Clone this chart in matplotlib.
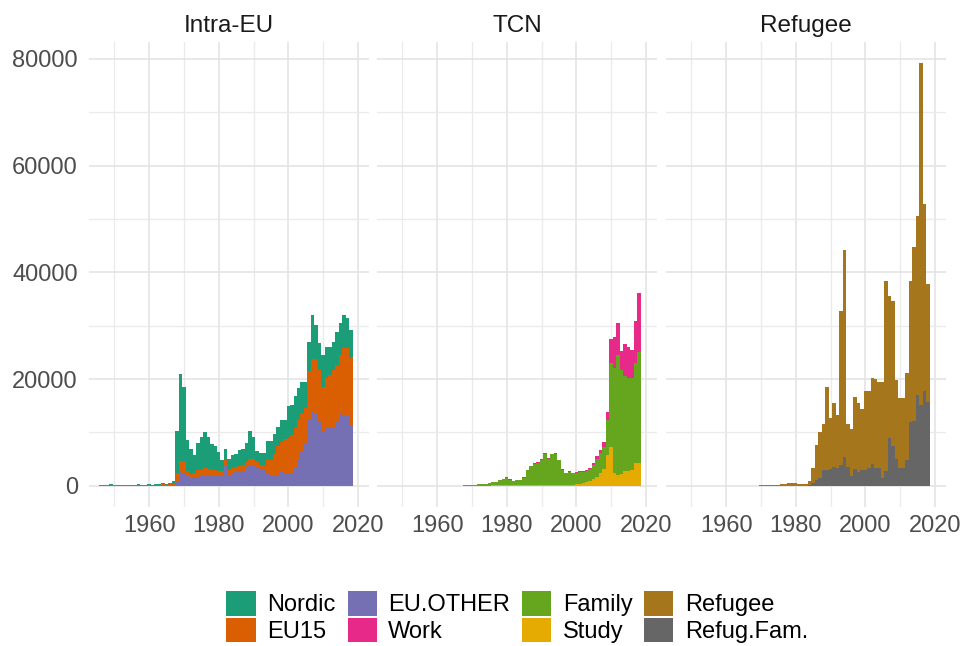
import numpy as np
import matplotlib.pyplot as plt
from matplotlib.patches import Patch

plt.rcParams['font.family'] = ['Liberation Sans', 'DejaVu Sans']
plt.rcParams['font.size'] = 17

years = np.arange(1946, 2019)

# Intra-EU (1946-2018)
nordic = [150, 120, 150, 180, 150, 130, 150, 160, 140, 150,
          150, 170, 150, 140, 160, 150, 180, 150, 200, 150,
          150, 500, 7800, 16400, 14000, 5900, 4600, 3300, 5200, 6100,
          6700, 6000, 4900, 4500, 3600, 2100, 2100, 2100, 2400, 2500,
          2950, 3000, 3700, 5300, 4200, 2100, 2300, 2200, 3500, 3500,
          3700, 3700, 3950, 3550, 6000, 5700, 6100, 5900, 5800, 4900,
          5400, 8250, 6450, 4950, 6100, 5900, 5300, 5150, 6050, 6050,
          6200, 5600, 5350]
eu15 = [50, 40, 60, 50, 50, 40, 50, 60, 50, 50,
        50, 60, 50, 50, 60, 50, 60, 80, 350, 150,
        300, 250, 1500, 1900, 2200, 600, 550, 1050, 1150, 1100,
        1350, 1200, 1050, 1000, 900, 750, 1000, 800, 900, 950,
        1050, 1200, 1100, 1100, 1200, 1100, 900, 900, 2500, 2800,
        3950, 5350, 5600, 6300, 6400, 7000, 7500, 7500, 7200, 6500,
        9000, 9850, 10150, 9750, 8200, 9400, 10000, 10650, 10700, 10950,
        12500, 12700, 12650]
eu_other = [30, 30, 40, 30, 30, 30, 40, 30, 30, 30,
            30, 40, 30, 30, 40, 30, 40, 40, 40, 40,
            50, 100, 900, 2700, 2400, 2100, 1750, 1450, 1750, 1900,
            1950, 1900, 1950, 1900, 1900, 1950, 3900, 2100, 2400, 2550,
            2700, 2700, 3300, 3900, 3800, 3300, 3000, 3000, 2400, 2100,
            2050, 2050, 2700, 2400, 2500, 2500, 3300, 4900, 6400, 8000,
            12500, 13900, 13600, 12000, 10300, 10800, 10800, 11100, 12000, 13600,
            13300, 13100, 11250]

# TCN (1946-2018)
family = [0] * 22 + [
    150, 150, 200, 250, 300, 300, 350, 400, 600, 670,
    950, 1100, 1250, 1000, 800, 900, 900, 1350, 2750, 3500,
    4000, 4150, 4750, 5800, 4900, 5700, 5800, 4600, 2800, 2200,
    2400, 2200, 2150, 2200, 2050, 2150, 2100, 2600, 3400, 3700,
    4000, 6700, 15700, 19500, 22400, 19550, 17800, 17500, 17200, 18800,
    20700]
work = [0] * 22 + [
    0, 0, 0, 0, 0, 0, 0, 0, 20, 30,
    50, 100, 200, 100, 50, 50, 50, 100, 100, 100,
    100, 100, 100, 100, 100, 100, 100, 100, 100, 100,
    100, 100, 100, 100, 150, 150, 200, 350, 500, 650,
    1000, 1350, 4500, 5900, 6000, 3450, 6100, 5900, 5300, 7800,
    11100]
study = [0] * 22 + [
    0, 0, 0, 0, 0, 0, 0, 50, 80, 100,
    100, 100, 150, 150, 150, 150, 150, 150, 150, 150,
    150, 150, 150, 200, 200, 200, 200, 200, 200, 200,
    200, 200, 300, 400, 500, 700, 1000, 1300, 1700, 2400,
    3200, 5700, 7300, 2500, 2100, 2200, 2700, 2700, 3000, 4200,
    4300]

# Refugee (1946-2018)
refugee = [0] * 24 + [
    100, 150, 100, 100, 100, 100, 300, 300, 450, 450,
    450, 400, 400, 400, 700, 2800, 6600, 8600, 8700, 15700,
    9600, 12000, 10000, 28900, 38700, 8000, 8800, 13500, 12900, 11500,
    14700, 14500, 16200, 16700, 16100, 18000, 35600, 26600, 27300, 14900,
    13100, 13100, 16200, 26400, 32700, 33500, 64000, 35100, 22000]
refug_fam = [0] * 24 + [
    0, 0, 0, 0, 0, 0, 0, 0, 0, 0,
    0, 0, 0, 0, 200, 500, 1100, 1400, 2900, 2900,
    3100, 3500, 3300, 3900, 5500, 3600, 1900, 3100, 2600, 2900,
    3000, 3300, 4100, 3300, 3300, 1400, 2700, 8900, 7400, 5000,
    3300, 3300, 4900, 11900, 12100, 17100, 15200, 17700, 15800]

colors = {'Nordic': '#1B9E77', 'EU15': '#D95F02', 'EU.OTHER': '#7570B3',
          'Work': '#E7298A', 'Family': '#66A61E', 'Study': '#E6AB02',
          'Refugee': '#A6761D', 'Refug.Fam.': '#666666'}

# stacking order: bottom first
panels = [
    ('Intra-EU', [('EU.OTHER', eu_other), ('EU15', eu15), ('Nordic', nordic)]),
    ('TCN', [('Study', study), ('Family', family), ('Work', work)]),
    ('Refugee', [('Refug.Fam.', refug_fam), ('Refugee', refugee)]),
]

ymax = max(np.sum([np.array(v) for _, v in s], axis=0).max() for _, s in panels)
edges = np.append(years - 0.5, years[-1] + 0.5)

W, H = 963, 646
fig = plt.figure(figsize=(W / 100, H / 100), dpi=100)
lefts = [89, 377, 666]

for i, (name, series) in enumerate(panels):
    ax = fig.add_axes([lefts[i] / W, 1 - 507 / H, 280 / W, 465 / H])
    base = np.zeros(len(years))
    for lab, vals in series:
        top = base + np.array(vals)
        ax.stairs(top, edges, baseline=base, fill=True,
                  color=colors[lab], linewidth=0)
        base = top
    ax.set_xlim(1942.7, 2023.2)
    ax.set_ylim(-0.05 * ymax, 1.05 * ymax)
    ax.set_xticks([1960, 1980, 2000, 2020])
    ax.set_xticks([1950, 1970, 1990, 2010], minor=True)
    ax.set_yticks([0, 20000, 40000, 60000, 80000])
    ax.set_yticks([10000, 30000, 50000, 70000], minor=True)
    ax.set_yticklabels(['0', '20000', '40000', '60000', '80000'])
    ax.grid(which='major', color='#E3E3E3', linewidth=1.15)
    ax.grid(which='minor', color='#EBEBEB', linewidth=1.0)
    ax.set_axisbelow(True)
    for sp in ax.spines.values():
        sp.set_visible(False)
    ax.tick_params(which='both', length=0, colors='#4D4D4D', labelsize=17)
    ax.tick_params(axis='x', pad=6)
    ax.tick_params(axis='y', pad=8)
    if i > 0:
        ax.tick_params(labelleft=False)
    ax.set_title(name, color='#1A1A1A', fontsize=17.5, pad=7)

order = ['Nordic', 'EU15', 'EU.OTHER', 'Work', 'Family', 'Study', 'Refugee', 'Refug.Fam.']
handles = [Patch(facecolor=colors[k], edgecolor='none') for k in order]
fig.legend(handles, order, loc='center', bbox_to_anchor=(517.5 / W, 1 - 617 / H),
           ncol=4, frameon=False, fontsize=17, handlelength=1.23, handleheight=1.23,
           handletextpad=0.5, columnspacing=0.5, labelspacing=0.05, borderpad=0)

fig.savefig('out.png', dpi=100)
